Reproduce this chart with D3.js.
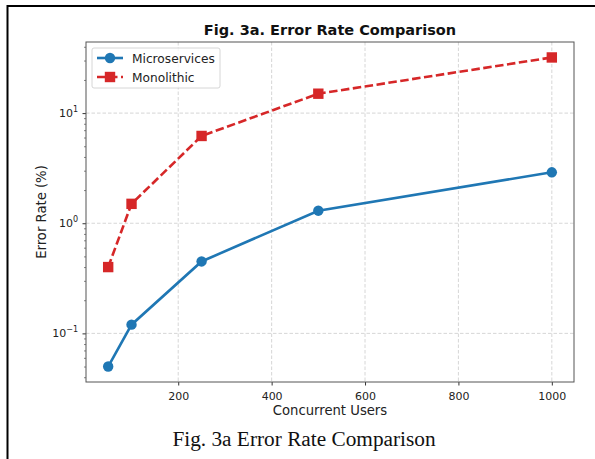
<!DOCTYPE html>
<html>
  <head>
    <script src="https://d3js.org/d3.v7.min.js"></script>
    <style>
      body { margin: 0; background: #fff; }
      svg { display: block; font-family: "DejaVu Sans", sans-serif; }
    </style>
  </head>
  <body>
    <div id="chart"></div>
    <script>
      const users = [50, 100, 250, 500, 1000];
      const microservices = [0.05, 0.12, 0.45, 1.3, 2.9];
      const monolithic = [0.4, 1.5, 6.2, 15, 32];
      const xTicks = [200, 400, 600, 800, 1000];
      const yTicks = [0.1, 1, 10];
      const yTickExp = ["\u22121", "0", "1"];

      const width = 595;
      const height = 459;
      const plot = { left: 86, right: 574, top: 42, bottom: 382 };

      const svg = d3
        .select("#chart")
        .append("svg")
        .attr("width", width)
        .attr("height", height);

      svg.append("rect").attr("width", width).attr("height", height).attr("fill", "#fff");

      // page frame (only left and top edges show in the crop)
      svg.append("path")
        .attr("d", `M7.5,${height} V6 H${width}`)
        .attr("fill", "none")
        .attr("stroke", "#000")
        .attr("stroke-width", 2);

      // matplotlib-style 5% margins
      const xPad = (d3.max(users) - d3.min(users)) * 0.05;
      const x = d3
        .scaleLinear()
        .domain([d3.min(users) - xPad, d3.max(users) + xPad])
        .range([plot.left, plot.right]);

      const allY = microservices.concat(monolithic);
      const lo = Math.log10(d3.min(allY));
      const hi = Math.log10(d3.max(allY));
      const yPad = (hi - lo) * 0.05;
      const y = d3
        .scaleLog()
        .domain([Math.pow(10, lo - yPad), Math.pow(10, hi + yPad)])
        .range([plot.bottom, plot.top]);

      const g = svg.append("g");

      // grid
      g.selectAll(".gx")
        .data(xTicks)
        .join("line")
        .attr("x1", (d) => x(d))
        .attr("x2", (d) => x(d))
        .attr("y1", plot.top)
        .attr("y2", plot.bottom)
        .attr("stroke", "#cbcbcb")
        .attr("stroke-width", 0.8)
        .attr("stroke-dasharray", "3.5,2");

      g.selectAll(".gy")
        .data(yTicks)
        .join("line")
        .attr("x1", plot.left)
        .attr("x2", plot.right)
        .attr("y1", (d) => y(d))
        .attr("y2", (d) => y(d))
        .attr("stroke", "#cbcbcb")
        .attr("stroke-width", 0.8)
        .attr("stroke-dasharray", "3.5,2");

      // x axis
      const xAxis = d3.axisBottom(x).tickValues(xTicks).tickSize(3.5).tickPadding(6.5).tickFormat(d3.format("d"));
      const xg = svg.append("g").attr("transform", `translate(0,${plot.bottom})`).call(xAxis);
      xg.select(".domain").remove();
      xg.selectAll("line").attr("stroke", "#333");
      xg.selectAll("text").attr("font-family", "DejaVu Sans").attr("font-size", 11).attr("fill", "#222");

      // y axis: majors + log minors
      const minor = [];
      const [d0, d1] = y.domain();
      for (let e = Math.floor(Math.log10(d0)); e <= Math.ceil(Math.log10(d1)); e++) {
        for (let m = 2; m <= 9; m++) {
          const v = m * Math.pow(10, e);
          if (v >= d0 && v <= d1) minor.push(v);
        }
      }
      const yMinor = d3.axisLeft(y).tickValues(minor).tickSize(2).tickFormat("");
      const ymg = svg.append("g").attr("transform", `translate(${plot.left},0)`).call(yMinor);
      ymg.select(".domain").remove();
      ymg.selectAll("line").attr("stroke", "#333").attr("stroke-width", 0.6);

      const yAxis = d3.axisLeft(y).tickValues(yTicks).tickSize(3.5).tickFormat("");
      const yg = svg.append("g").attr("transform", `translate(${plot.left},0)`).call(yAxis);
      yg.select(".domain").remove();
      yg.selectAll("line").attr("stroke", "#333");
      const yl = svg.append("g").selectAll("text")
        .data(yTicks)
        .join("text")
        .attr("x", plot.left - 8)
        .attr("y", (d) => y(d) + 4)
        .attr("text-anchor", "end")
        .attr("font-size", 11)
        .attr("fill", "#222");
      yl.append("tspan").text("10");
      yl.append("tspan")
        .attr("dy", -5)
        .attr("font-size", 8)
        .text((d, i) => yTickExp[i]);

      // lines
      const line = (vals) =>
        d3.line().x((d, i) => x(users[i])).y((d) => y(d))(vals);

      svg.append("path")
        .attr("d", line(monolithic))
        .attr("fill", "none")
        .attr("stroke", "#d62728")
        .attr("stroke-width", 2.6)
        .attr("stroke-dasharray", "8.5,3.5");

      svg.append("path")
        .attr("d", line(microservices))
        .attr("fill", "none")
        .attr("stroke", "#1f77b4")
        .attr("stroke-width", 2.6);

      svg.selectAll(".sq")
        .data(monolithic)
        .join("rect")
        .attr("x", (d, i) => x(users[i]) - 5.2)
        .attr("y", (d) => y(d) - 5.2)
        .attr("width", 10.4)
        .attr("height", 10.4)
        .attr("fill", "#d62728");

      svg.selectAll(".ci")
        .data(microservices)
        .join("circle")
        .attr("cx", (d, i) => x(users[i]))
        .attr("cy", (d) => y(d))
        .attr("r", 5.2)
        .attr("fill", "#1f77b4");

      // frame of the axes
      svg.append("rect")
        .attr("x", plot.left)
        .attr("y", plot.top)
        .attr("width", plot.right - plot.left)
        .attr("height", plot.bottom - plot.top)
        .attr("fill", "none")
        .attr("stroke", "#555")
        .attr("stroke-width", 1);

      // legend
      const lg = svg.append("g").attr("transform", "translate(92,48)");
      lg.append("rect")
        .attr("width", 128)
        .attr("height", 40)
        .attr("rx", 2)
        .attr("fill", "#fff")
        .attr("fill-opacity", 0.8)
        .attr("stroke", "#ccc")
        .attr("stroke-width", 0.8);
      const items = [
        { name: "Microservices", color: "#1f77b4", dash: null, shape: "circle" },
        { name: "Monolithic", color: "#d62728", dash: "8.5,3.5", shape: "square" },
      ];
      items.forEach((it, i) => {
        const yy = 10 + i * 19;
        lg.append("line")
          .attr("x1", 5).attr("x2", 31)
          .attr("y1", yy).attr("y2", yy)
          .attr("stroke", it.color)
          .attr("stroke-width", 2.6)
          .attr("stroke-dasharray", it.dash);
        if (it.shape === "circle") {
          lg.append("circle").attr("cx", 18).attr("cy", yy).attr("r", 5.2).attr("fill", it.color);
        } else {
          lg.append("rect").attr("x", 12.8).attr("y", yy - 5.2).attr("width", 10.4).attr("height", 10.4).attr("fill", it.color);
        }
        lg.append("text")
          .attr("x", 40)
          .attr("y", yy + 4.5)
          .attr("font-size", 12.2)
          .attr("fill", "#222")
          .text(it.name);
      });

      // titles
      const cx = (plot.left + plot.right) / 2;
      svg.append("text")
        .attr("x", cx).attr("y", 35)
        .attr("text-anchor", "middle")
        .attr("font-size", 14.5)
        .attr("font-weight", "bold")
        .attr("fill", "#111")
        .text("Fig. 3a. Error Rate Comparison");

      svg.append("text")
        .attr("x", cx).attr("y", 415)
        .attr("text-anchor", "middle")
        .attr("font-size", 13.2)
        .attr("fill", "#222")
        .text("Concurrent Users");

      svg.append("text")
        .attr("transform", `translate(45.5,${(plot.top + plot.bottom) / 2}) rotate(-90)`)
        .attr("text-anchor", "middle")
        .attr("font-size", 13.2)
        .attr("fill", "#222")
        .text("Error Rate (%)");

      svg.append("text")
        .attr("x", 304).attr("y", 446)
        .attr("text-anchor", "middle")
        .attr("font-family", "Liberation Serif, serif")
        .attr("font-size", 21.3)
        .attr("fill", "#111")
        .text("Fig. 3a Error Rate Comparison");
    </script>
  </body>
</html>
